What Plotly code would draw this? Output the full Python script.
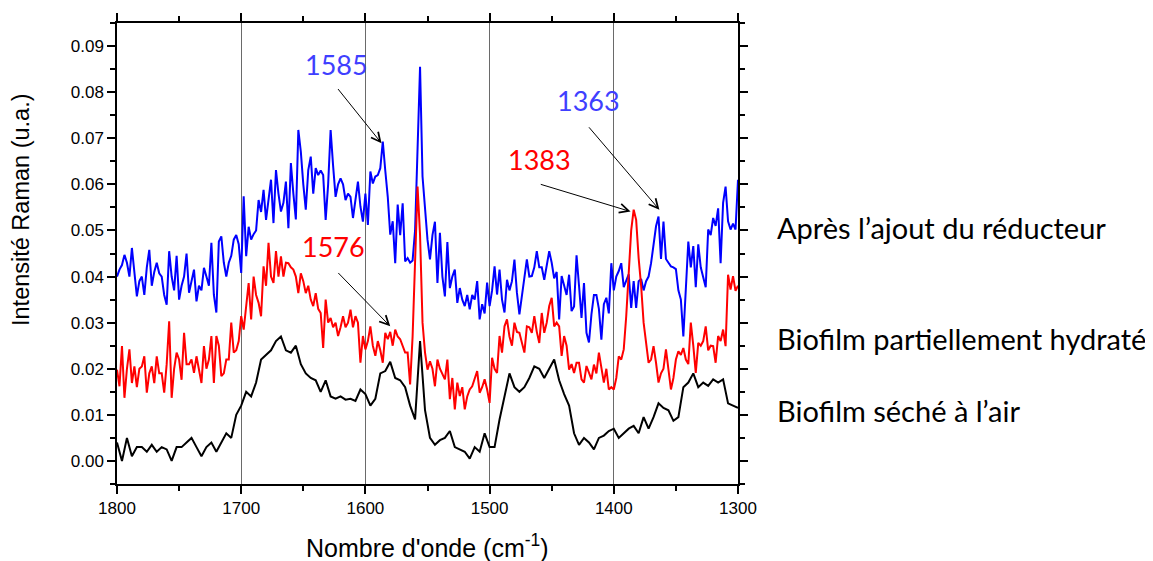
import plotly.graph_objects as go

# Wavenumber grids (cm-1), 1800 -> 1300
wn_black = list(range(1800, 1299, -4))   # every 4 cm-1
wn_fine = list(range(1800, 1299, -2))    # every 2 cm-1

# Biofilm séché à l'air (black), sampled every 4 cm-1
seche = [
    0.004, 0.000, 0.005, 0.001, 0.003, 0.003, 0.002, 0.0035, 0.002, 0.003,
    0.0025, 0.000, 0.003, 0.003, 0.004, 0.005, 0.003, 0.001, 0.003, 0.004,
    0.002, 0.004, 0.006, 0.005, 0.010, 0.012, 0.015, 0.014, 0.017, 0.022,
    0.023, 0.024, 0.026, 0.027, 0.024, 0.0235, 0.025, 0.021, 0.019, 0.018,
    0.0175, 0.015, 0.0175, 0.014, 0.0135, 0.014, 0.0133, 0.0135, 0.013, 0.0155,
    0.0145, 0.012, 0.0135, 0.019, 0.0195, 0.0215, 0.018, 0.0175, 0.016, 0.012,
    0.009, 0.026, 0.011, 0.005, 0.0035, 0.0045, 0.005, 0.0065, 0.003, 0.0025,
    0.002, 0.0005, 0.003, 0.002, 0.006, 0.003, 0.003, 0.009, 0.014, 0.019,
    0.016, 0.015, 0.016, 0.018, 0.0205, 0.020, 0.018, 0.020, 0.022, 0.0175,
    0.0145, 0.012, 0.006, 0.0035, 0.005, 0.004, 0.0025, 0.005, 0.0055, 0.0065,
    0.007, 0.005, 0.006, 0.007, 0.0076, 0.006, 0.0095, 0.007, 0.0095, 0.0125,
    0.0115, 0.011, 0.0087, 0.0095, 0.016, 0.017, 0.019, 0.016, 0.017, 0.0163,
    0.0177, 0.017, 0.0177, 0.0125, 0.012, 0.0115,
]

# Après l'ajout du réducteur (blue), sampled every 2 cm-1
reducteur = [
    0.040, 0.0415, 0.0425, 0.0447, 0.043, 0.040, 0.0462, 0.0413, 0.0357, 0.039,
    0.040, 0.036, 0.0420, 0.0458, 0.038, 0.041, 0.043, 0.0407, 0.040, 0.036,
    0.0339, 0.0455, 0.040, 0.037, 0.0445, 0.035, 0.038, 0.040, 0.045, 0.0365,
    0.039, 0.0415, 0.0346, 0.038, 0.037, 0.0419, 0.040, 0.038, 0.0473, 0.036,
    0.0322, 0.0476, 0.0487, 0.043, 0.040, 0.043, 0.0445, 0.048, 0.049, 0.047,
    0.0408, 0.0574, 0.0444, 0.0508, 0.048, 0.0492, 0.050, 0.0566, 0.054, 0.0588,
    0.0523, 0.0566, 0.061, 0.0516, 0.0631, 0.058, 0.0541, 0.056, 0.0606, 0.0505,
    0.0646, 0.058, 0.0524, 0.0718, 0.0671, 0.060, 0.0545, 0.0631, 0.0660, 0.0580,
    0.0635, 0.0620, 0.0630, 0.062, 0.0523, 0.060, 0.0718, 0.064, 0.0573, 0.0600,
    0.0613, 0.060, 0.0566, 0.058, 0.0573, 0.0527, 0.0566, 0.0606, 0.0552, 0.0519,
    0.058, 0.0512, 0.0628, 0.0602, 0.0617, 0.062, 0.0635, 0.0693, 0.063, 0.0573,
    0.0491, 0.0520, 0.0429, 0.0556, 0.049, 0.0559, 0.0433, 0.0440, 0.0430, 0.0435,
    0.050, 0.0700, 0.0855, 0.0617, 0.0538, 0.048, 0.0437, 0.049, 0.0519, 0.0386,
    0.0495, 0.040, 0.0357, 0.0475, 0.0375, 0.040, 0.0415, 0.0343, 0.0375, 0.035,
    0.0336, 0.036, 0.0329, 0.036, 0.035, 0.039, 0.0307, 0.034, 0.032, 0.0387,
    0.0336, 0.037, 0.0422, 0.0361, 0.0415, 0.035, 0.0322, 0.0393, 0.037, 0.039,
    0.0437, 0.0365, 0.0318, 0.036, 0.0393, 0.0437, 0.040, 0.0401, 0.042, 0.0455,
    0.0420, 0.042, 0.0393, 0.042, 0.0455, 0.043, 0.0396, 0.041, 0.0307, 0.0401,
    0.038, 0.036, 0.0404, 0.0325, 0.0335, 0.0446, 0.038, 0.031, 0.0386, 0.0278,
    0.0257, 0.0318, 0.036, 0.036, 0.033, 0.0263, 0.034, 0.0354, 0.032, 0.0429,
    0.037, 0.040, 0.0412, 0.0429, 0.0377, 0.039, 0.0405, 0.0332, 0.039, 0.0332,
    0.039, 0.0395, 0.037, 0.039, 0.040, 0.0429, 0.0469, 0.0509, 0.053, 0.0438,
    0.0519, 0.0438, 0.0430, 0.0422, 0.042, 0.0416, 0.037, 0.035, 0.027, 0.038,
    0.0476, 0.042, 0.0466, 0.0377, 0.047, 0.042, 0.0397, 0.0377, 0.0502, 0.049,
    0.0527, 0.051, 0.0548, 0.0429, 0.056, 0.0595, 0.052, 0.0502, 0.0515, 0.0502,
    0.061,
]

# Biofilm partiellement hydraté (red), sampled every 2 cm-1
hydrate = [
    0.0198, 0.0162, 0.0249, 0.0137, 0.0200, 0.0242, 0.0169, 0.0205, 0.016, 0.020,
    0.0205, 0.0227, 0.0148, 0.019, 0.0205, 0.0169, 0.0227, 0.019, 0.019, 0.0148,
    0.021, 0.0303, 0.0137, 0.020, 0.0235, 0.022, 0.0176, 0.0278, 0.021, 0.021,
    0.022, 0.0191, 0.0227, 0.020, 0.0169, 0.0249, 0.020, 0.022, 0.0271, 0.0169,
    0.0271, 0.025, 0.0184, 0.019, 0.022, 0.022, 0.030, 0.0235, 0.024, 0.026,
    0.0314, 0.0285, 0.033, 0.0386, 0.0307, 0.040, 0.036, 0.0343, 0.0314, 0.0422,
    0.038, 0.0473, 0.0400, 0.0386, 0.0455, 0.040, 0.0444, 0.040, 0.043, 0.0429,
    0.042, 0.0415, 0.040, 0.0364, 0.0407, 0.039, 0.0364, 0.038, 0.035, 0.0336,
    0.0364, 0.033, 0.0321, 0.0245, 0.035, 0.030, 0.031, 0.029, 0.030, 0.0271,
    0.029, 0.0314, 0.029, 0.030, 0.0328, 0.029, 0.0314, 0.0300, 0.0213, 0.0271,
    0.0242, 0.026, 0.0292, 0.025, 0.0228, 0.026, 0.024, 0.0213, 0.0278, 0.0264,
    0.028, 0.025, 0.0285, 0.027, 0.0264, 0.0249, 0.0235, 0.0235, 0.0166, 0.027,
    0.0422, 0.0595, 0.049, 0.030, 0.0235, 0.0198, 0.0216, 0.020, 0.0162, 0.022,
    0.020, 0.019, 0.0177, 0.022, 0.0134, 0.018, 0.0112, 0.017, 0.0141, 0.016,
    0.0112, 0.014, 0.0155, 0.0162, 0.018, 0.0195, 0.0148, 0.016, 0.0177, 0.0155,
    0.0126, 0.0224, 0.020, 0.0191, 0.0271, 0.0235, 0.0292, 0.0307, 0.027, 0.025,
    0.030, 0.028, 0.0278, 0.0256, 0.0235, 0.0292, 0.029, 0.0278, 0.0314, 0.028,
    0.0256, 0.0321, 0.0278, 0.030, 0.0336, 0.0354, 0.0292, 0.030, 0.0292, 0.0228,
    0.0271, 0.025, 0.0198, 0.021, 0.0191, 0.0213, 0.0213, 0.0177, 0.017, 0.0206,
    0.019, 0.0177, 0.0209, 0.019, 0.0235, 0.020, 0.017, 0.020, 0.0155, 0.016,
    0.0155, 0.018, 0.0227, 0.022, 0.0242, 0.0314, 0.040, 0.050, 0.0545, 0.0523,
    0.044, 0.038, 0.030, 0.0256, 0.0213, 0.022, 0.0249, 0.0213, 0.017, 0.019,
    0.020, 0.0242, 0.020, 0.0155, 0.018, 0.022, 0.0238, 0.023, 0.0245, 0.022,
    0.021, 0.030, 0.025, 0.0191, 0.0256, 0.025, 0.026, 0.0292, 0.024, 0.025,
    0.0249, 0.0213, 0.0271, 0.026, 0.0285, 0.0249, 0.0404, 0.0372, 0.0401, 0.0369,
    0.038,
]

assert len(seche) == len(wn_black)
assert len(reducteur) == len(wn_fine)
assert len(hydrate) == len(wn_fine)

series_names = ["Après l’ajout du réducteur", "Biofilm partiellement hydraté", "Biofilm séché à l’air"]
series_colors = ["#0000FF", "#FF0000", "#000000"]

# Peak labels: text, colour, label position, arrow tail, arrow tip (data coords)
peak_labels = ["1585", "1576", "1383", "1363"]
peak_colors = ["#3F3FFF", "#FF0000", "#FF0000", "#3F3FFF"]
label_x = [1623, 1626, 1460, 1420]
label_y = [0.0861, 0.0465, 0.0653, 0.0781]
tail_x = [1623, 1623, 1460, 1421]
tail_y = [0.0810, 0.0411, 0.0601, 0.0727]
tip_x = [1587, 1580, 1386.5, 1363.3]
tip_y = [0.0689, 0.0292, 0.0541, 0.0545]

y_tick_vals = [0.00, 0.01, 0.02, 0.03, 0.04, 0.05, 0.06, 0.07, 0.08, 0.09]
y_tick_text = ["0.00", "0.01", "0.02", "0.03", "0.04", "0.05", "0.06", "0.07", "0.08", "0.09"]
x_tick_vals = [1800, 1700, 1600, 1500, 1400, 1300]

# page has an 8px body margin: figure is drawn offset by OFF
OFF = 8
W, H = 1153 - OFF, 561 - OFF
L, T = 117 - OFF, 23 - OFF
R = W - (738 - OFF)
B = H - (484 - OFF)
pw, ph = W - L - R, H - T - B

def px_to_paper_x(px):
    return (px - OFF - L) / pw

def py_to_paper_y(py):
    return (H - B - (py - OFF)) / ph

fig = go.Figure()
for xs, vals, name, col in zip([wn_fine, wn_fine, wn_black], [reducteur, hydrate, seche],
                               series_names, series_colors):
    fig.add_trace(go.Scatter(x=xs, y=vals, mode="lines", name=name,
                             line=dict(color=col, width=2), showlegend=False))

annotations = []
for i in range(len(peak_labels)):
    annotations.append(dict(x=tip_x[i], y=tip_y[i], ax=tail_x[i], ay=tail_y[i],
                            xref="x", yref="y", axref="x", ayref="y", text="",
                            showarrow=True, arrowhead=5, arrowsize=1.8, arrowwidth=1,
                            arrowcolor="#000000", standoff=0, startstandoff=0))
    annotations.append(dict(x=label_x[i], y=label_y[i], xref="x", yref="y",
                            text=peak_labels[i], showarrow=False,
                            font=dict(family="Lato", size=27, color=peak_colors[i]),
                            xanchor="center", yanchor="middle"))

right_label_py = [227, 338, 410]
for name, py in zip(series_names, right_label_py):
    annotations.append(dict(x=px_to_paper_x(775), y=py_to_paper_y(py), xref="paper", yref="paper",
                            text=name, showarrow=False, xanchor="left", yanchor="middle",
                            font=dict(family="Lato", size=29, color="#000000")))

annotations.append(dict(x=px_to_paper_x(21), y=py_to_paper_y(210), xref="paper", yref="paper",
                        text="Intensité Raman (u.a.)", textangle=-90, showarrow=False,
                        xanchor="center", yanchor="middle",
                        font=dict(family="Liberation Sans", size=23.5, color="#000000")))
annotations.append(dict(x=px_to_paper_x(427.5), y=py_to_paper_y(546), xref="paper", yref="paper",
                        text="Nombre d'onde (cm<sup>-1</sup>)", showarrow=False,
                        xanchor="center", yanchor="middle",
                        font=dict(family="Liberation Sans", size=25, color="#000000")))

fig.update_layout(
    width=W, height=H,
    margin=dict(l=L, r=R, t=T, b=B, autoexpand=False),
    paper_bgcolor="white", plot_bgcolor="white",
    annotations=annotations,
    font=dict(family="Liberation Sans", color="#000000"),
)
fig.update_xaxes(
    range=[1800, 1300], tickmode="array", tickvals=x_tick_vals,
    ticks="outside", ticklen=8, tickwidth=1.5, tickcolor="#000000",
    minor=dict(dtick=50, tick0=1300, ticks="outside", ticklen=5, tickwidth=1.5, tickcolor="#000000", showgrid=False),
    showline=True, linecolor="#000000", linewidth=1.5, mirror="allticks",
    showgrid=True, gridcolor="#6a6a6a", gridwidth=1,
    zeroline=False, tickfont=dict(family="Liberation Sans", size=17, color="#000000"),
)
fig.update_yaxes(
    range=[-0.005, 0.095], tickmode="array", tickvals=y_tick_vals, ticktext=y_tick_text,
    ticks="outside", ticklen=8, tickwidth=1.5, tickcolor="#000000",
    minor=dict(dtick=0.005, tick0=0, ticks="outside", ticklen=5, tickwidth=1.5, tickcolor="#000000", showgrid=False),
    showline=True, linecolor="#000000", linewidth=1.5, mirror="allticks",
    showgrid=False, zeroline=False,
    tickfont=dict(family="Liberation Sans", size=17, color="#000000"),
)

fig.write_html("out.html")
